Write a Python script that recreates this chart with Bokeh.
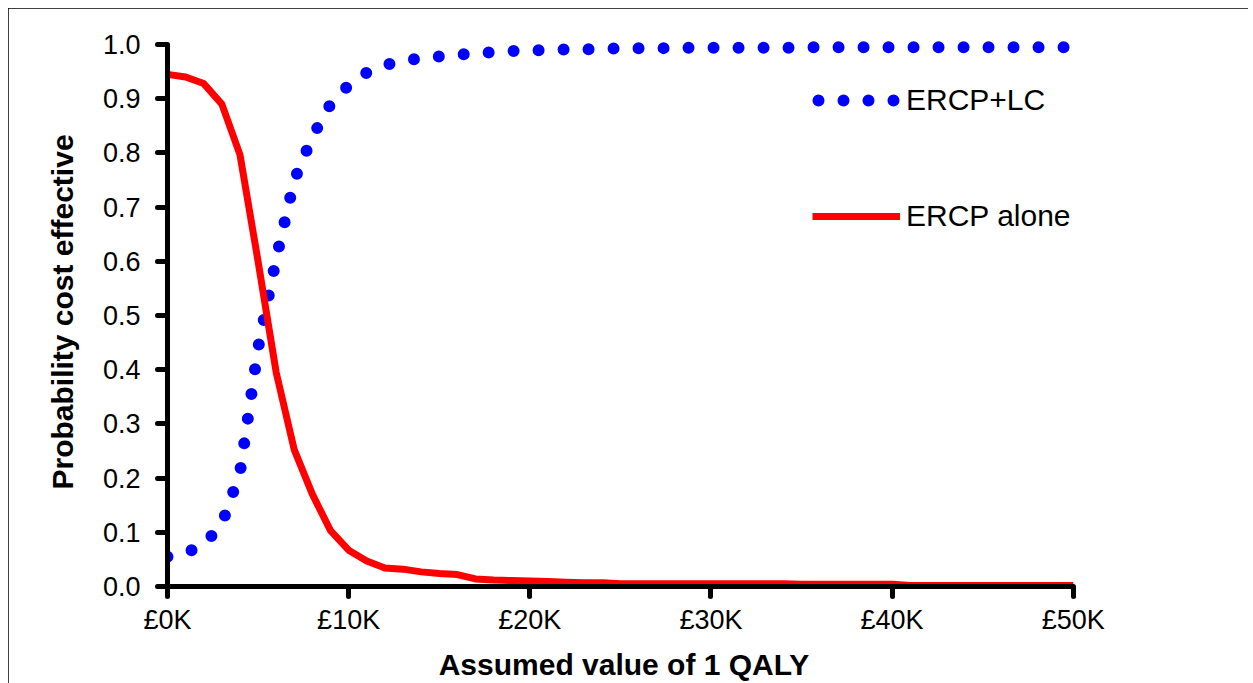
from bokeh.plotting import figure
from bokeh.models import FixedTicker, Legend, LegendItem, Range1d
from bokeh.embed import file_html
from bokeh.resources import INLINE

# Assumed value of 1 QALY (thousands of pounds)
wtp_k = [0, 1, 2, 3, 4, 5, 6, 7, 8, 9, 10, 11, 12, 13, 14, 15, 16, 17, 18, 19,
         20, 21, 22, 23, 24, 25, 26, 27, 28, 29, 30, 31, 32, 33, 34, 35, 36, 37,
         38, 39, 40, 41, 42, 43, 44, 45, 46, 47, 48, 49, 50]

ercp_lc = [0.055, 0.062, 0.077, 0.115, 0.21, 0.44, 0.605, 0.75, 0.83, 0.89,
           0.925, 0.948, 0.962, 0.970, 0.975, 0.978, 0.981, 0.984, 0.986, 0.988,
           0.989, 0.990, 0.991, 0.991, 0.992, 0.993, 0.993, 0.993, 0.994, 0.994,
           0.994, 0.994, 0.994, 0.994, 0.994, 0.995, 0.995, 0.995, 0.995, 0.995,
           0.995, 0.995, 0.995, 0.995, 0.995, 0.995, 0.995, 0.995, 0.995, 0.995,
           0.995]

ercp_alone = [0.945, 0.940, 0.928, 0.890, 0.797, 0.600, 0.395, 0.252, 0.170, 0.103,
              0.067, 0.047, 0.034, 0.032, 0.027, 0.024, 0.022, 0.014, 0.012, 0.011,
              0.010, 0.009, 0.008, 0.007, 0.007, 0.005, 0.005, 0.005, 0.005, 0.005,
              0.005, 0.005, 0.005, 0.005, 0.005, 0.004, 0.004, 0.004, 0.004, 0.004,
              0.004, 0.002, 0.002, 0.002, 0.002, 0.002, 0.002, 0.002, 0.002, 0.002,
              0.002]

x_ticks = [0, 10, 20, 30, 40, 50]
x_tick_labels = ["£0K", "£10K", "£20K", "£30K", "£40K", "£50K"]
y_ticks = [0.0, 0.1, 0.2, 0.3, 0.4, 0.5, 0.6, 0.7, 0.8, 0.9, 1.0]
y_tick_labels = ["0.0", "0.1", "0.2", "0.3", "0.4", "0.5", "0.6", "0.7", "0.8", "0.9", "1.0"]

series_names = ["ERCP+LC", "ERCP alone"]
x_title = "Assumed value of 1 QALY"
y_title = "Probability cost effective"

FONT = "Liberation Sans"
BLUE = "#0000FF"
RED = "#FF0000"

p = figure(width=1240, height=675, output_backend="svg", toolbar_location=None,
           x_range=Range1d(0, 50.4), y_range=Range1d(0, 1.013),
           min_border_left=159, min_border_right=168, min_border_top=29,
           min_border_bottom=97)
p.margin = (8, 5, 0, 8)
p.outline_line_color = None
p.xgrid.visible = False
p.ygrid.visible = False
p.background_fill_color = "white"
p.border_fill_color = "white"
p.styles = {"outline": "1.5px solid black", "outline-offset": "-1.5px"}

r_blue = p.line(wtp_k, ercp_lc, line_color=BLUE, line_width=12,
                line_dash="0 25", line_cap="round", line_join="round")
r_red = p.line(wtp_k, ercp_alone, line_color=RED, line_width=7,
               line_join="round")
# legend-only swatch for the dotted series (kept outside the visible range;
# its dash offset keeps the four key dots whole)
r_blue_key = p.line([-3, -2], [0.5, 0.5], line_color=BLUE, line_width=12,
                    line_dash="0 25", line_dash_offset=19, line_cap="round")

for ax, ticks, labels in ((p.xaxis[0], x_ticks, x_tick_labels),
                          (p.yaxis[0], y_ticks, y_tick_labels)):
    ax.ticker = FixedTicker(ticks=ticks)
    ax.major_label_overrides = {t: l for t, l in zip(ticks, labels)}
    ax.axis_line_width = 5
    ax.axis_line_color = "black"
    ax.major_tick_line_width = 5
    ax.major_tick_line_cap = "round"
    ax.major_tick_in = 0
    ax.major_tick_out = 10
    ax.minor_tick_line_color = None
    ax.major_label_text_font = FONT
    ax.major_label_text_font_size = "27px"
    ax.major_label_text_color = "black"
    ax.axis_label_text_font = FONT
    ax.axis_label_text_font_style = "bold"
    ax.axis_label_text_font_size = "30px"
    ax.axis_label_text_color = "black"

p.xaxis.bounds = (0, 50)
p.yaxis.bounds = (0, 1)
p.xaxis.axis_label = x_title
p.yaxis.axis_label = y_title
p.xaxis.major_label_standoff = 8
p.xaxis.axis_label_standoff = 10
p.yaxis.major_label_standoff = 17
p.yaxis.axis_label_standoff = 21

legend = Legend(items=[LegendItem(label=series_names[0], renderers=[r_blue_key]),
                       LegendItem(label=series_names[1], renderers=[r_red])],
                location=(645, 353), orientation="vertical",
                glyph_width=88, glyph_height=34, label_height=34,
                label_standoff=6, spacing=82, padding=0, margin=0,
                border_line_color=None, background_fill_alpha=0,
                label_text_font=FONT, label_text_font_size="30px",
                label_text_color="black")
p.add_layout(legend, "center")

open("out.html", "w").write(file_html(p, INLINE))
